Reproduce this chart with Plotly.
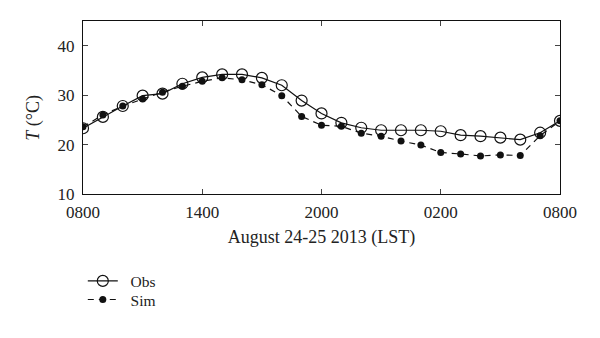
import plotly.graph_objects as go

hours = list(range(25))
tick_vals = [0, 6, 12, 18, 24]
tick_text = ["0800", "1400", "2000", "0200", "0800"]
obs = [23.3, 25.6, 27.8, 29.9, 30.3, 32.3, 33.6, 34.2, 34.2, 33.5, 32.0, 28.9, 26.3, 24.4, 23.4,
       22.9, 22.9, 22.9, 22.7, 21.9, 21.7, 21.4, 21.0, 22.4, 24.8]
sim = [23.6, 26.0, 27.8, 29.2, 30.6, 31.8, 32.8, 33.5, 33.1, 32.1, 29.9, 25.7, 23.9, 23.7, 22.3,
       21.7, 20.7, 19.9, 18.4, 18.1, 17.7, 17.9, 17.8, 21.8, 24.8]

font = dict(family="Liberation Serif, Times New Roman, serif", color="#222", size=17)

fig = go.Figure()
fig.add_trace(go.Scatter(x=hours, y=obs, name="\u00a0\u00a0Obs", mode="lines+markers", legend="legend",
                         line=dict(color="#111", width=1.2),
                         marker=dict(symbol="circle-open", size=11, color="#111", line=dict(width=1.2))))
fig.add_trace(go.Scatter(x=hours, y=sim, name="\u00a0\u00a0Sim", mode="lines+markers", legend="legend2",
                         line=dict(color="#111", width=1.2, dash="6px,5px"),
                         marker=dict(symbol="circle", size=7, color="#111")))

leg_common = dict(xref="container", yref="container", xanchor="left", yanchor="top",
                  bgcolor="rgba(0,0,0,0)", font=dict(size=15.5), itemwidth=30)
fig.update_layout(
    width=600, height=338, margin=dict(l=83, r=40, t=21, b=144, autoexpand=False),
    paper_bgcolor="white", plot_bgcolor="white", font=font,
    showlegend=True,
    legend=dict(x=0.138, y=0.218, **leg_common),
    legend2=dict(x=0.138, y=0.163, **leg_common),
    annotations=[dict(text="<i>T</i> (°C)", xref="paper", yref="paper", x=-0.103, y=0.44,
                      textangle=-90, showarrow=False, font=dict(size=18),
                      xanchor="center", yanchor="middle")],
)
fig.update_xaxes(range=[0, 24], tickvals=tick_vals, ticktext=tick_text, ticks="inside", ticklen=5,
                 ticklabelstandoff=2,
                 showline=True, linecolor="#111", linewidth=1.2, mirror="ticks", showgrid=False,
                 zeroline=False, title=dict(text="August 24-25 2013 (LST)", standoff=9, font=dict(size=18)))
fig.update_yaxes(range=[10, 45], tickvals=[10, 20, 30, 40], ticks="inside", ticklen=5,
                 ticklabelstandoff=4,
                 showline=True, linecolor="#111", linewidth=1.2, mirror="ticks", showgrid=False,
                 zeroline=False)

fig.write_html("out.html")
